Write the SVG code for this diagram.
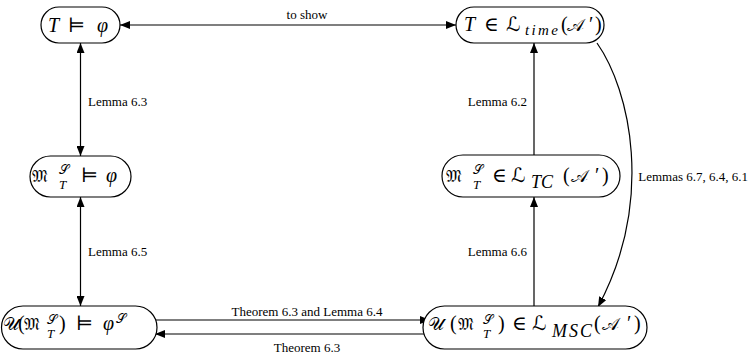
<svg xmlns="http://www.w3.org/2000/svg" width="750" height="357" viewBox="0 0 750 357">
<style>
.pill{fill:#fff;stroke:#000;stroke-width:1.2}
.m{font-family:"Liberation Serif","DejaVu Serif","DejaVu Sans","Noto Sans",serif;font-size:20px;fill:#000}
.i{font-style:italic}
.s{font-size:13px}
.f{font-size:18px}
.fm{font-size:17px}
.sub{font-size:18px;font-style:italic}
.lbl{font-family:"Liberation Serif","Times New Roman",serif;font-size:13px;fill:#000}
.e{fill:none;stroke:#000;stroke-width:1.2}
</style>
<defs>
<marker id="ah" viewBox="0 0 10 8" refX="10" refY="4" markerWidth="10" markerHeight="8" markerUnits="userSpaceOnUse" orient="auto-start-reverse">
<path d="M0,0 L10,4 L0,8 z" fill="#000"/>
</marker>
</defs>
<rect width="750" height="357" fill="#fff"/>
<g id="edges">
<line class="e" x1="120" y1="25" x2="456" y2="25" marker-start="url(#ah)" marker-end="url(#ah)"/>
<text class="lbl" x="307" y="19" text-anchor="middle">to show</text>
<line class="e" x1="80.5" y1="43" x2="80.5" y2="156" marker-start="url(#ah)" marker-end="url(#ah)"/>
<text class="lbl" x="88" y="106">Lemma 6.3</text>
<line class="e" x1="80.5" y1="197" x2="80.5" y2="306" marker-start="url(#ah)" marker-end="url(#ah)"/>
<text class="lbl" x="88" y="256">Lemma 6.5</text>
<line class="e" x1="534" y1="155" x2="534" y2="43" marker-end="url(#ah)"/>
<text class="lbl" x="527" y="106" text-anchor="end">Lemma 6.2</text>
<line class="e" x1="534" y1="306" x2="534" y2="197" marker-end="url(#ah)"/>
<text class="lbl" x="527" y="256" text-anchor="end">Lemma 6.6</text>
<path class="e" d="M597,43 C630,90 655,200 598,307" marker-end="url(#ah)"/>
<text class="lbl" x="748" y="181" font-size="12" text-anchor="end">Lemmas 6.7, 6.4, 6.1</text>
<line class="e" x1="155" y1="320" x2="430" y2="320" marker-end="url(#ah)"/>
<text class="lbl" x="307" y="316" text-anchor="middle">Theorem 6.3 and Lemma 6.4</text>
<line class="e" x1="428" y1="334" x2="155" y2="334" marker-end="url(#ah)"/>
<text class="lbl" x="307" y="352" text-anchor="middle">Theorem 6.3</text>
</g>
<g id="n1">
<rect class="pill" x="41" y="7" width="79" height="36" rx="18"/>
<text class="m"><tspan class="i" x="48" y="32">T</tspan><tspan x="68" y="32">⊨</tspan><tspan class="i" x="97" y="32">φ</tspan></text>
</g>
<g id="n2">
<rect class="pill" x="456" y="7" width="148" height="36" rx="18"/>
<text class="m"><tspan class="i" x="464" y="31">T</tspan><tspan x="484" y="31">∈</tspan><tspan x="506" y="31">ℒ</tspan><tspan class="i" x="525" y="35" font-size="15" textLength="33" lengthAdjust="spacing">time</tspan><tspan x="561" y="31">(</tspan><tspan class="f" x="567" y="31">𝒜</tspan><tspan x="589" y="31">′</tspan><tspan x="595" y="31">)</tspan></text>
</g>
<g id="n3">
<rect class="pill" x="30" y="156" width="101" height="41" rx="20.5"/>
<text class="m"><tspan class="fm" x="32" y="182">𝔐</tspan><tspan class="s" x="59" y="174">𝒮</tspan><tspan class="i s" x="59" y="189">T</tspan><tspan x="81" y="182">⊨</tspan><tspan class="i" x="106" y="182">φ</tspan></text>
</g>
<g id="n4">
<rect class="pill" x="442" y="155" width="178" height="42" rx="21"/>
<text class="m"><tspan class="fm" x="446" y="182">𝔐</tspan><tspan class="s" x="473" y="174">𝒮</tspan><tspan class="i s" x="473" y="189">T</tspan><tspan x="492" y="182">∈</tspan><tspan x="511" y="182">ℒ</tspan><tspan class="sub" x="531" y="188">TC</tspan><tspan x="563" y="182">(</tspan><tspan class="f" x="571" y="182">𝒜</tspan><tspan x="595" y="182">′</tspan><tspan x="602" y="182">)</tspan></text>
</g>
<g id="n5">
<rect class="pill" x="1.5" y="306" width="155.5" height="43" rx="21.5"/>
<text class="m"><tspan class="f" x="3" y="330">𝒰</tspan><tspan x="18" y="330">(</tspan><tspan class="fm" x="24" y="330">𝔐</tspan><tspan class="s" x="47" y="324">𝒮</tspan><tspan class="i s" x="47" y="338">T</tspan><tspan x="59" y="330">)</tspan><tspan x="76" y="330">⊨</tspan><tspan class="i" x="103" y="330">φ</tspan><tspan class="s" x="116" y="323">𝒮</tspan></text>
</g>
<g id="n6">
<rect class="pill" x="423" y="306" width="224" height="43" rx="21.5"/>
<text class="m"><tspan class="f" x="428" y="330">𝒰</tspan><tspan x="450" y="330">(</tspan><tspan class="fm" x="458" y="330">𝔐</tspan><tspan class="s" x="483" y="324">𝒮</tspan><tspan class="i s" x="483" y="338">T</tspan><tspan x="498" y="330">)</tspan><tspan x="512" y="330">∈</tspan><tspan x="532" y="330">ℒ</tspan><tspan class="sub" x="552" y="337" textLength="40" lengthAdjust="spacing">MSC</tspan><tspan x="594" y="330">(</tspan><tspan class="f" x="602" y="330">𝒜</tspan><tspan x="627" y="330">′</tspan><tspan x="634" y="330">)</tspan></text>
</g>
</svg>
